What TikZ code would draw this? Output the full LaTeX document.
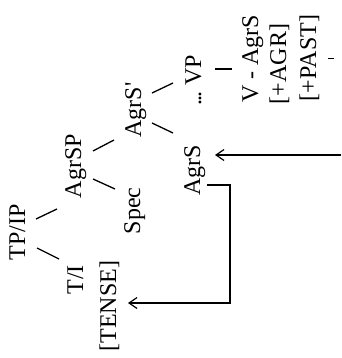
\documentclass[tikz,border=0pt]{standalone}
\usepackage{fontspec}
\setmainfont{Liberation Serif}
\usetikzlibrary{arrows.meta,calc}

\tikzset{
  lbl/.style={rotate=90, anchor=base, inner sep=0pt, font=\fontsize{24}{29}\selectfont},
  branch/.style={line width=1.3pt},
  link/.style={line width=1.2pt, -{Straight Barb[length=8pt,width=11pt]}}
}

\begin{document}
\begin{tikzpicture}[x=1pt, y=-1pt]
  \useasboundingbox (0,0) rectangle (341,358);
  % labels, turned a quarter
  \node[lbl] (tpip) at (25,232) {TP/IP};
  \node[lbl] (ti) at (83,280) {T/I};
  \node[lbl] (tense) at (116,306) {[TENSE]};
  \node[lbl] (agrsp) at (81,166) {AgrSP};
  \node[lbl] (spec) at (140,211) {Spec};
  \node[lbl] (agrsbar) at (141,110) {AgrS\textquotesingle};
  \node[lbl] (vp) at (201,80) {.\kern-2pt.\kern-2pt.\ VP};
  \node[lbl] (agrs) at (200,170) {AgrS};
  \node[lbl] (vagrs) at (258,59) {V - AgrS};
  \node[lbl] (agr) at (286,64) {[+AGR]};
  \node[lbl] (past) at (316,58) {[+PAST]};
  \coordinate (src) at (341,155);

  % branches
  \draw[branch] ($(tpip.base)+(12,16)$) -- ($(ti.base)+(-24,-21)$);
  \draw[branch] ($(tpip.base)+(11,-13)$) -- ($(agrsp.base)+(-24,43)$);
  \draw[branch] ($(agrsp.base)+(12,-15)$) -- ($(agrsbar.base)+(-27,30)$);
  \draw[branch] ($(agrsp.base)+(12,13)$) -- ($(spec.base)+(-25,-22)$);
  \draw[branch] ($(agrsbar.base)+(11,-17)$) -- ($(vp.base)+(-28,3)$);
  \draw[branch] ($(agrsbar.base)+(11,13)$) -- ($(agrs.base)+(-27,-37)$);
  \draw[branch] ($(vp.base)+(14,-11)$) -- ($(vagrs.base)+(-26,10)$);
  \draw[line width=0.8pt] ($(past.base)+(12,0)$) -- ($(past.base)+(18,0)$);

  % movement arrows
  \draw[link] (src) -- ($(agrs.base)+(15,-15)$);
  \draw[link] ($(agrs.base)+(7,15)$) -- ++(23,0) |- ($(tense.base)+(12,-3)$);
\end{tikzpicture}
\end{document}
